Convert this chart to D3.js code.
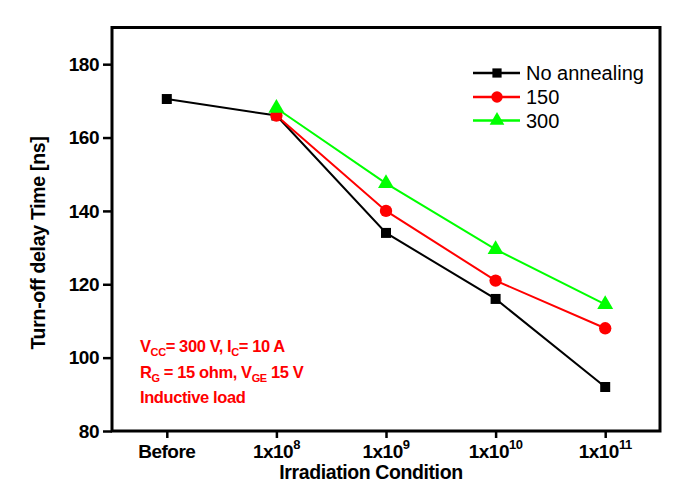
<!DOCTYPE html>
<html><head><meta charset="utf-8">
<script src="https://cdn.jsdelivr.net/npm/d3@7"></script>
<style>
body{margin:0;background:#fff;}
text{font-family:"Liberation Sans",Arial,sans-serif;}
</style></head>
<body><svg id="c" width="674" height="489"></svg>
<script>
const categories = ["Before","1e8","1e9","1e10","1e11"];
const tickBase = ["Before","1x10","1x10","1x10","1x10"];
const tickExp = ["","8","9","10","11"];
const noAnnealing = [170.5, 166, 134, 116, 92];
const ann150 = [null, 166, 140, 121, 108];
const ann300 = [null, 168, 147.5, 129.5, 114.5];
const seriesNames = ["No annealing","150","300"];
const seriesColors = ["#000000","#ff0000","#00ff00"];
const yTicks = [80,100,120,140,160,180];

const svg = d3.select("#c");
const L=112, R=660, T=27.5, B=431;
const x = d3.scalePoint().domain(categories).range([L,R]).padding(0.5);
const y = d3.scaleLinear().domain([80,190]).range([B,T]);

// Frame
svg.append("rect").attr("x",L).attr("y",T).attr("width",R-L).attr("height",B-T)
  .attr("fill","none").attr("stroke","#000").attr("stroke-width",3);

// Y axis
const ya = svg.append("g").attr("transform",`translate(${L},0)`)
  .call(d3.axisLeft(y).tickValues(yTicks).tickSize(9).tickPadding(4).tickFormat(d3.format("d")));
ya.select(".domain").remove();
ya.selectAll(".tick line").attr("stroke-width",2.5);
ya.selectAll(".tick text").attr("font-size",19).attr("font-weight","bold").attr("fill","#000")
  .style("font-family","'Liberation Sans',Arial,sans-serif").attr("letter-spacing","-0.5");

// X axis
const xa = svg.append("g").attr("transform",`translate(0,${B})`)
  .call(d3.axisBottom(x).tickSize(7).tickFormat(() => ""));
xa.select(".domain").remove();
xa.selectAll(".tick line").attr("stroke-width",2.5);
categories.forEach((c,i)=>{
  const t = svg.append("text").attr("x",x(c)).attr("y",457.5).attr("text-anchor","middle")
    .attr("font-size",19).attr("font-weight","bold").attr("fill","#000").attr("letter-spacing","-0.5");
  t.append("tspan").text(tickBase[i]);
  if (tickExp[i]) t.append("tspan").attr("font-size",13).attr("dy",-9).text(tickExp[i]);
});

// Axis titles
svg.append("text").attr("x",371).attr("y",479).attr("text-anchor","middle")
  .attr("font-size",19.5).attr("font-weight","bold").attr("letter-spacing","-0.4").text("Irradiation Condition");
svg.append("text").attr("transform","translate(45,243) rotate(-90)").attr("text-anchor","middle")
  .attr("font-size",19.5).attr("font-weight","bold").attr("letter-spacing","-0.3").text("Turn-off delay Time [ns]");

// Series
const allSeries = [noAnnealing, ann150, ann300];
const line = d3.line().defined(d=>d.v!=null).x(d=>x(d.c)).y(d=>y(d.v));
const sym = [d3.symbolSquare, d3.symbolCircle, d3.symbolTriangle];
const symSize = [100, 120, 110];
allSeries.forEach((s,k)=>{
  const pts = categories.map((c,i)=>({c, v:s[i]}));
  svg.append("path").datum(pts).attr("d",line).attr("fill","none")
    .attr("stroke",seriesColors[k]).attr("stroke-width",2);
});
allSeries.forEach((s,k)=>{
  const pts = categories.map((c,i)=>({c, v:s[i]})).filter(d=>d.v!=null);
  svg.selectAll(null).data(pts).enter().append("path")
    .attr("d", d3.symbol().type(sym[k]).size(symSize[k]))
    .attr("transform", d=>`translate(${x(d.c)},${y(d.v)})`)
    .attr("fill",seriesColors[k]);
});

// Legend
const legY = [73, 97, 120.5];
seriesNames.forEach((n,k)=>{
  const g = svg.append("g");
  g.append("line").attr("x1",473).attr("x2",520).attr("y1",legY[k]).attr("y2",legY[k])
    .attr("stroke",seriesColors[k]).attr("stroke-width",2.5);
  g.append("path").attr("d", d3.symbol().type(sym[k]).size(symSize[k]*0.85))
    .attr("transform",`translate(497,${legY[k]})`).attr("fill",seriesColors[k]);
  g.append("text").attr("x",526).attr("y",legY[k]+7).attr("font-size",20).attr("fill","#000").text(n);
});

// Annotation
const ann = svg.append("g").attr("fill","#ff0000").attr("font-weight","bold").attr("font-size",16.5).attr("letter-spacing","-0.4");
const a1 = ann.append("text").attr("x",140).attr("y",352);
a1.append("tspan").text("V");
a1.append("tspan").attr("font-size",11).attr("dy",4).text("CC");
a1.append("tspan").attr("dy",-4).text("= 300 V, I");
a1.append("tspan").attr("font-size",11).attr("dy",4).text("C");
a1.append("tspan").attr("dy",-4).text("= 10 A");
const a2 = ann.append("text").attr("x",140).attr("y",377.5);
a2.append("tspan").text("R");
a2.append("tspan").attr("font-size",11).attr("dy",4).text("G");
a2.append("tspan").attr("dy",-4).text(" = 15 ohm, V");
a2.append("tspan").attr("font-size",11).attr("dy",4).text("GE");
a2.append("tspan").attr("dy",-4).text(" 15 V");
ann.append("text").attr("x",140).attr("y",402.5).text("Inductive load");
</script></body></html>
